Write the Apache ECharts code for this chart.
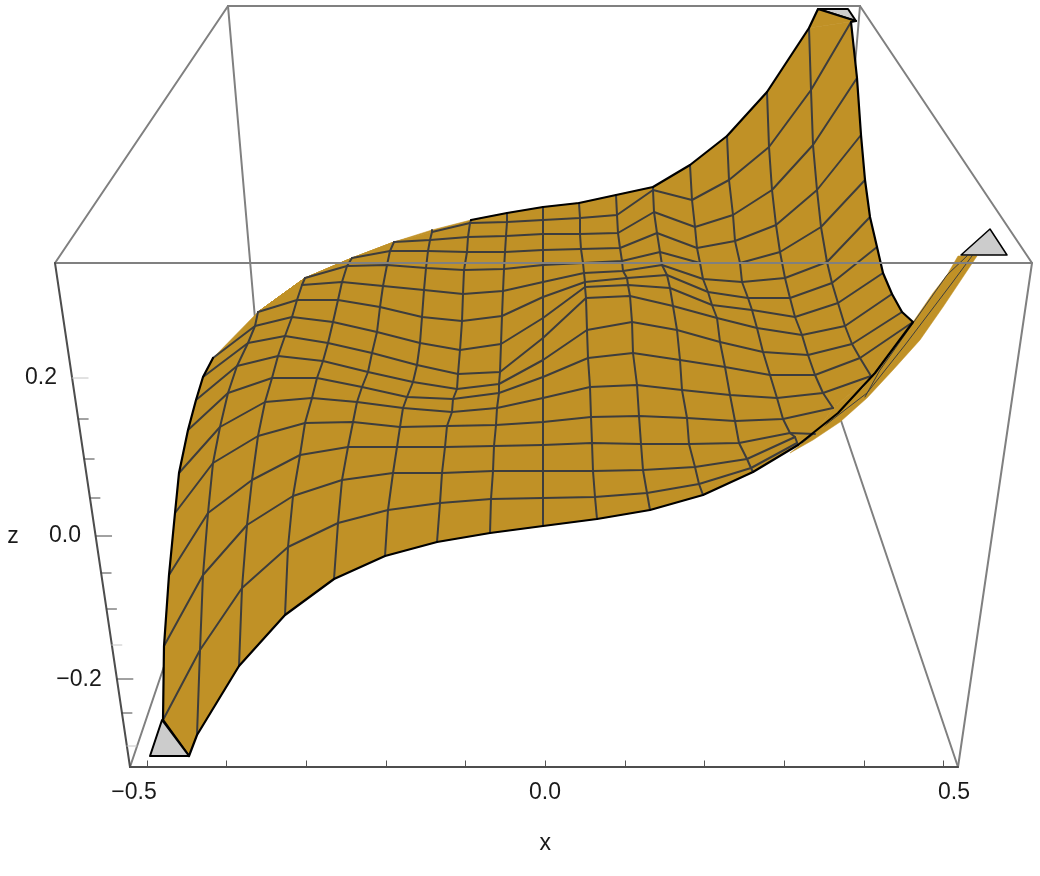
<!DOCTYPE html>
<html>
<head>
<meta charset="utf-8">
<style>
  html, body { margin: 0; padding: 0; background: #fff; }
  #main { width: 1040px; height: 876px; }
</style>
<script src="https://cdn.jsdelivr.net/npm/echarts@6/dist/echarts.min.js"></script>
</head>
<body>
<div id="main"></div>
<script>
// surface: one list per mesh column, 17 rows front to back, [picture x, picture y]
const col00 = [[189,756],[163,720],[164,646],[169,575],[175,513],[179,473],[188,430],[196,400],[203,377],[213,358],[258,312],[258,312],[258,312],[258,312],[258,312],[258,312],[258,312]]
const col01 = [[197,735],[200,650],[203,575],[208,513],[213,463],[220,427],[228,393],[237,366],[248,343],[255,326],[258,312],[305,278],[305,278],[305,278],[305,278],[305,278],[305,278]]
const col02 = [[239,666],[242,588],[247,525],[252,480],[258,436],[265,402],[272,378],[278,356],[285,336],[292,317],[297,300],[302,285],[305,278],[305,278],[305,278],[305,278],[305,278]]
const col03 = [[285,615],[288,547],[293,496],[300,455],[305,423],[312,398],[317,378],[323,361],[328,343],[333,322],[338,300],[342,282],[347,266],[352,258],[352,258],[352,258],[352,258]]
const col04 = [[334,579],[338,523],[342,480],[348,447],[353,422],[357,402],[362,387],[368,372],[372,353],[377,332],[380,307],[383,286],[387,265],[390,251],[394,242],[394,242],[394,242]]
const col05 = [[385,556],[388,510],[393,473],[397,447],[400,427],[403,408],[407,397],[413,382],[417,365],[420,343],[422,317],[424,290],[426,268],[428,251],[430,240],[432,232],[432,230]]
const col06 = [[437,542],[440,503],[442,473],[445,447],[447,426],[452,412],[453,399],[457,389],[458,374],[460,350],[462,321],[463,294],[464,270],[467,252],[468,237],[470,223],[471,220]]
const col07 = [[490,533],[491,499],[493,471],[494,446],[496,425],[497,408],[499,393],[499,384],[500,372],[501,344],[502,316],[503,291],[504,269],[505,252],[506,236],[507,222],[507,213]]
const col08 = [[543,526],[543,498],[543,471],[543,445],[543,422],[543,398],[543,377],[543,360],[543,338],[543,318],[543,297],[543,282],[543,265],[543,250],[543,234],[543,220],[543,207]]
const col09 = [[597,519],[595,497],[593,471],[592,443],[591,417],[590,387],[588,358],[587,330],[586,298],[585,287],[585,282],[584,273],[583,263],[581,249],[580,234],[580,218],[579,203]]
const col10 = [[650,510],[647,493],[643,470],[641,444],[639,416],[637,385],[633,353],[632,322],[630,296],[628,285],[627,278],[623,271],[622,261],[620,248],[618,233],[617,215],[616,195]]
const col11 = [[703,495],[699,484],[695,467],[689,444],[687,418],[682,390],[680,360],[677,330],[673,306],[670,288],[667,275],[662,265],[660,252],[657,233],[654,212],[653,190],[653,187]]
const col12 = [[753,472],[751,468],[747,459],[739,443],[735,421],[730,395],[725,367],[720,342],[717,318],[712,305],[708,292],[703,279],[700,263],[697,248],[695,227],[692,200],[690,165]]
const col13 = [[798,445],[797,443],[795,437],[790,433],[783,419],[777,398],[770,375],[763,352],[757,328],[752,310],[748,298],[742,282],[740,263],[735,241],[733,215],[729,180],[727,136]]
const col14 = [[838,413],[830,420],[822,428],[815,434],[833,408],[823,393],[815,375],[808,355],[802,335],[795,317],[790,298],[785,278],[780,252],[776,225],[772,190],[769,147],[767,92]]
const col15 = [[875,373],[875,373],[875,373],[875,373],[875,373],[871,376],[860,358],[852,344],[845,326],[838,303],[832,283],[827,262],[821,227],[817,190],[813,145],[811,90],[809,28]]
const col16 = [[913,322],[913,322],[913,322],[913,322],[913,322],[913,322],[913,322],[902,312],[892,294],[883,273],[877,247],[870,217],[865,180],[861,135],[857,78],[851,22],[856,21]]
const meshCols = [col00,col01,col02,col03,col04,col05,col06,col07,col08,col09,col10,col11,col12,col13,col14,col15,col16]

// which part of each mesh line can be seen, the rest is folded away or hidden
const colFirstRow = [0,0,0,0,0,0,0,0,0,0,0,0,0,0,4,5,6]
const colLastRow = [9,10,12,13,14,16,16,16,16,16,16,16,16,16,16,16,16]
const rowFirstCol = [0,0,0,0,0,0,0,0,0,0,1,2,2,3,4,5,5]
const rowLastCol = [16,13,13,14,14,15,16,16,16,16,16,16,16,16,16,16,16]

// thin fold on the right, the part where the front edge turns back up
const foldUpper = [[800,445],[837,410],[863,388],[877,370],[890,355],[913,322],[933,293],[947,275],[958,256]]
const foldLower = [[977,256],[963,277],[943,307],[920,340],[893,370],[867,398],[840,422],[813,440],[790,453]]
const foldLine1 = [[865,397],[880,370],[947,275],[967,256]]
const foldLine2 = [[802,443],[867,393],[905,345],[952,283],[972,256]]

// clipped corners: caps where the surface leaves the box
const capLeft = [[150,756],[189,756],[162,720]]
const capTop = [[818,9],[848,9],[856,21]]
const capRight = [[961,255],[990,229],[1007,255]]
const topClip = [[809,28],[818,9],[856,21]]

// box edges
const edgeBackTop = [[228,6],[860,6]]
const edgeBackLeftTop = [[55,263],[228,6]]
const edgeBackRightTop = [[860,6],[1032,263]]
const edgeBackLeft = [[228,6],[256,330]]
const edgeBackRight = [[860,6],[835,300]]
const edgeFloorLeft = [[130,767],[200,560]]
const edgeFloorRight = [[958,767],[830,388]]
const edgeFrontTop = [[55,263],[1032,263]]
const edgeFrontLeft = [[130,767],[55,263]]
const edgeFrontRight = [[958,767],[1032,263]]
const edgeFrontBottom = [[130,767],[958,767]]

// axis labels
const xTickLabels = ['\u22120.5', '0.0', '0.5']
const zTickLabels = ['0.2', '0.0', '\u22120.2']
const zTickRows = [378,419,459,498,536,573,609,645,679,713,746]
const zTickMajor = [378,536,679]
const zTickFaint = [378,645,746]

const xLabelSpots = [[134,793],[545,793],[954,793]]
const zLabelSpots = [[41,378],[65,536],[79,680]]
const zNameSpot = [13,537]

const GOLD = '#c09126'
const MESH = '#3d3d3d'
const BOX = '#808080'
const FONT = '23px "Liberation Sans", Arial, sans-serif'

function lineOf(points, color, width, z) {
  return {
    type: 'line',
    xAxisIndex: 1,
    yAxisIndex: 1,
    data: points,
    showSymbol: false,
    silent: true,
    animation: false,
    clip: false,
    z: z,
    lineStyle: { color: color, width: width, cap: 'round', join: 'round' },
  }
}

function polygonOf(points, fill, stroke, width, z) {
  return {
    type: 'custom',
    xAxisIndex: 1,
    yAxisIndex: 1,
    clip: false,
    silent: true,
    animation: false,
    z: z,
    data: [0],
    renderItem: function (params, api) {
      return {
        type: 'polygon',
        shape: { points: points.map((p) => api.coord(p)) },
        style: { fill: fill, stroke: stroke, lineWidth: width, lineJoin: 'round' },
      }
    },
  }
}

function textsOf(labels, spots) {
  return {
    type: 'custom',
    xAxisIndex: 1,
    yAxisIndex: 1,
    clip: false,
    silent: true,
    animation: false,
    z: 20,
    data: labels.map((t, i) => [spots[i][0], spots[i][1], t]),
    renderItem: function (params, api) {
      let c = api.coord([api.value(0), api.value(1)])
      return {
        type: 'text',
        x: c[0],
        y: c[1],
        style: {
          text: labels[params.dataIndex],
          font: FONT,
          fill: '#1a1a1a',
          align: 'center',
          verticalAlign: 'middle',
        },
      }
    },
  }
}

let series = []

// back of the box goes first, the surface hides it
;[edgeBackTop, edgeBackLeftTop, edgeBackRightTop, edgeBackLeft, edgeBackRight, edgeFloorLeft, edgeFloorRight].forEach((e) => {
  series.push(lineOf(e, BOX, 2, 1))
})

series.push(polygonOf(foldUpper.concat(foldLower), GOLD, GOLD, 0.5, 3))
series.push(lineOf(foldLine1, MESH, 1, 4))
series.push(lineOf(foldLine2, MESH, 1, 4))

// surface cells
let cells = []
for (let c = 0; c < meshCols.length - 1; c++) {
  for (let r = 0; r < meshCols[c].length - 1; r++) {
    cells.push([c, r])
  }
}
series.push({
  type: 'custom',
  xAxisIndex: 1,
  yAxisIndex: 1,
  clip: false,
  silent: true,
  animation: false,
  z: 5,
  data: cells,
  renderItem: function (params, api) {
    let c = api.value(0)
    let r = api.value(1)
    let pts = [meshCols[c][r], meshCols[c + 1][r], meshCols[c + 1][r + 1], meshCols[c][r + 1]]
    return {
      type: 'polygon',
      shape: { points: pts.map((p) => api.coord(p)) },
      style: { fill: GOLD, stroke: GOLD, lineWidth: 0.6 },
    }
  },
})
series.push(polygonOf(topClip, GOLD, GOLD, 0.5, 5))

// mesh lines
for (let c = 1; c < meshCols.length - 1; c++) {
  series.push(lineOf(meshCols[c].slice(colFirstRow[c], colLastRow[c] + 1), MESH, 2, 6))
}
for (let r = 1; r < col00.length - 1; r++) {
  let row = []
  for (let c = rowFirstCol[r]; c <= rowLastCol[r]; c++) row.push(meshCols[c][r])
  series.push(lineOf(row, MESH, 2, 6))
}

// black outline: left side, front edge, right side, then the back edge from the middle on
let outline = col00.slice(0, 10).reverse()
outline = outline.concat(meshCols.map((col) => col[0]))
outline = outline.concat(col16.slice(1, 16).filter((p, i, a) => i == 0 || p[0] != a[i - 1][0]))
outline.push(col16[16], topClip[1], col15[16])
for (let c = 14; c >= 6; c--) outline.push(meshCols[c][16])
series.push(lineOf(outline, '#000', 2.2, 7))

series.push(polygonOf(capLeft, '#cccccc', '#000', 2, 8))
series.push(polygonOf(capTop, '#cccccc', '#000', 2, 4))
series.push(polygonOf(capRight, '#cccccc', '#000', 1.5, 8))

// front of the box lies over the surface
series.push(lineOf(edgeFrontTop, BOX, 2, 9))
series.push(lineOf(edgeFrontRight, BOX, 2, 9))
series.push(lineOf(edgeFrontLeft, '#4d4d4d', 2, 9))
series.push(lineOf(edgeFrontBottom, '#4d4d4d', 2, 9))

// z ticks sit on the slanted front edge
zTickRows.forEach((y) => {
  let x0 = edgeFrontLeft[0][0] + ((edgeFrontLeft[1][0] - edgeFrontLeft[0][0]) * (edgeFrontLeft[0][1] - y)) / (edgeFrontLeft[0][1] - edgeFrontLeft[1][1])
  let len = zTickMajor.includes(y) ? 16 : 10
  series.push(lineOf([[x0, y], [x0 + len, y]], zTickFaint.includes(y) ? '#c4c4c4' : '#444', 1, 9))
})

series.push(textsOf(xTickLabels, xLabelSpots))
series.push(textsOf(zTickLabels, zLabelSpots))
series.push(textsOf(['z'], [zNameSpot]))

let option = {
  backgroundColor: '#fff',
  animation: false,
  grid: [
    { left: 147, right: 96.4, top: 700, bottom: 108.5 },
    { left: 0, right: 0, top: 0, bottom: 0 },
  ],
  xAxis: [
    {
      type: 'value',
      gridIndex: 0,
      min: -0.5,
      max: 0.5,
      interval: 0.1,
      name: 'x',
      nameLocation: 'middle',
      nameGap: 65,
      nameTextStyle: { fontFamily: 'Liberation Sans', fontSize: 23, color: '#1a1a1a' },
      axisLine: { show: false },
      axisLabel: { show: false },
      splitLine: { show: false },
      axisTick: { show: true, inside: true, length: 7, lineStyle: { color: '#555', width: 1 } },
    },
    { type: 'value', gridIndex: 1, min: 0, max: 1040, show: false },
  ],
  yAxis: [
    { type: 'value', gridIndex: 0, min: 0, max: 1, show: false },
    { type: 'value', gridIndex: 1, min: 0, max: 876, inverse: true, show: false },
  ],
  series: series,
}

let mychart = echarts.init(document.getElementById('main'), null, { renderer: 'canvas' })
mychart.setOption(option)
</script>
</body>
</html>
